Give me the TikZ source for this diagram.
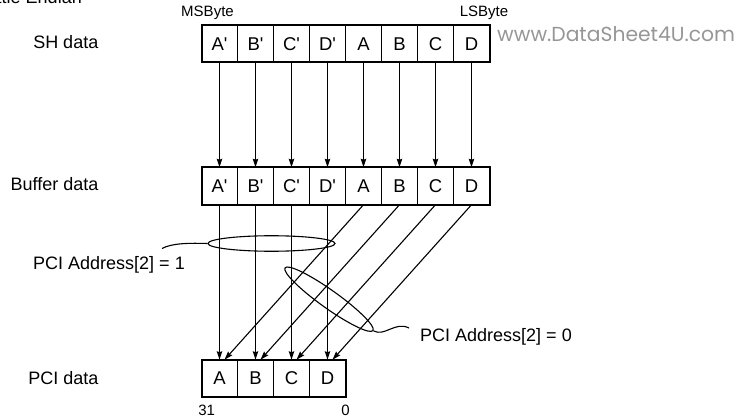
\documentclass[tikz,border=0pt]{standalone}
\usepackage{fontspec}
\setmainfont{Liberation Sans}
\newfontfamily\wmfont{Poppins}
\usetikzlibrary{arrows.meta,calc,shapes.geometric}
\definecolor{wmgray}{RGB}{150,150,150}
\newcommand{\pr}{\textquotesingle}
\begin{document}
\begin{tikzpicture}[x=1pt,y=-1pt,
  cell/.style={draw,line width=1.1pt,minimum width=36pt,minimum height=37.5pt,inner sep=0pt,outer sep=0pt,font=\fontsize{18.5}{20}\selectfont},
  lbl/.style={font=\fontsize{18}{20}\selectfont,inner sep=0pt},
  small/.style={font=\fontsize{15}{17}\selectfont,inner sep=0pt},
  conn/.style={line width=1.1pt},
  arr/.style={line width=1.1pt,-{Stealth[length=8.5pt,width=5.5pt,inset=1pt]}}]
\clip (0,0) rectangle (743,419);
% rows of cells
\foreach \t [count=\i] in {A\pr,B\pr,C\pr,D\pr,A,B,C,D}{
  \node[cell] (sh\i) at ({201.5+36*(\i-0.5)},43.75) {\t};
  \node[cell] (bf\i) at ({201.5+36*(\i-0.5)},186) {\t};
}
\foreach \t [count=\i] in {A,B,C,D}{
  \node[cell] (pc\i) at ({201.5+36*(\i-0.5)},378.5) {\t};
}
\draw[line width=2pt] (sh1.north west) rectangle (sh8.south east);
\draw[line width=2pt] (bf1.north west) rectangle (bf8.south east);
\draw[line width=2pt] (pc1.north west) rectangle (pc4.south east);
% arrows
\foreach \i in {1,...,8}{
  \draw[arr] (sh\i.south) -- (bf\i.north);
}
\foreach \i in {1,...,4}{
  \draw[arr] (bf\i.south) -- (pc\i.north);
  \pgfmathtruncatemacro{\j}{\i+4}
  \draw[arr] (bf\j.south) -- ($(pc\i.north)+(5,0)$);
}
% ellipses
\node[draw,conn,ellipse,minimum width=127pt,minimum height=15.5pt,inner sep=0pt] (e1) at (271.5,243.5) {};
\node[draw,conn,ellipse,minimum width=108pt,minimum height=18pt,inner sep=0pt,rotate=-35.5] (e2) at (329,299.2) {};
% labels
\node[lbl,anchor=base east] (lend) at (82,4) {Little Endian};
\node[lbl,anchor=east] (lsh) at (98.5,42) {SH data};
\node[lbl,anchor=east] (lbf) at (98.5,184) {Buffer data};
\node[lbl,anchor=east] (lpc) at (98.5,378) {PCI data};
\node[small] (msb) at (207.5,13) {MSByte};
\node[small] (lsb) at (484,13) {LSByte};
\node[small] (n31) at (206.7,410.7) {31};
\node[small] (n0) at (345.5,410.7) {0};
\node[lbl,anchor=west] (a1) at (33,265) {PCI Address[2] = 1};
\node[lbl,anchor=west] (a0) at (420,337) {PCI Address[2] = 0};
\node[anchor=west,inner sep=0pt,text=wmgray,font=\wmfont\fontsize{20.3}{22}\selectfont] (wm) at (497,34) {www.DataSheet4U.com};
% leaders
\draw[conn] (e1.west) .. controls (190,243) and (172,243) .. (162,248.5);
\draw[conn] (e2.east) .. controls (385,337) and (395,321) .. (409,328);
\end{tikzpicture}
\end{document}
